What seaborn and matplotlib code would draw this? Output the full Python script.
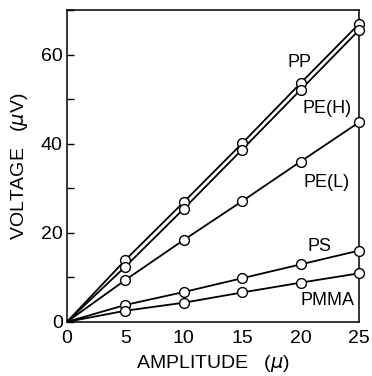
import pandas as pd
import matplotlib.pyplot as plt
import seaborn as sns
from matplotlib.ticker import MultipleLocator

# Data
amplitude = [0, 5, 10, 15, 20, 25]
pp = [0, 13.9, 26.9, 40.1, 53.6, 66.9]
pe_h = [0, 12.4, 25.4, 38.7, 52.1, 65.5]
pe_l = [0, 9.4, 18.4, 27.1, 36.0, 44.8]
ps = [0, 3.8, 6.7, 9.8, 12.9, 16.0]
pmma = [0, 2.5, 4.3, 6.6, 8.8, 10.9]

series_names = ["PP", "PE(H)", "PE(L)", "PS", "PMMA"]
label_text = ["PP", "PE(H)", "PE(L)", "PS", "PMMA"]
label_x = [19.9, 22.3, 22.2, 21.6, 22.3]
label_y = [58.3, 47.9, 31.2, 16.9, 4.9]

rows = []
for name, vals in zip(series_names, [pp, pe_h, pe_l, ps, pmma]):
    for a, v in zip(amplitude, vals):
        rows.append({"amplitude": a, "voltage": v, "sample": name})
df = pd.DataFrame(rows)

sns.set_style("ticks")
plt.rcParams['font.family'] = ['Liberation Sans', 'DejaVu Sans']
plt.rcParams['text.color'] = 'black'
plt.rcParams['axes.labelcolor'] = 'black'
plt.rcParams['xtick.color'] = 'black'
plt.rcParams['ytick.color'] = 'black'
plt.rcParams['mathtext.fontset'] = 'dejavusans'

fig = plt.figure(figsize=(3.72, 3.76), dpi=100)
ax = fig.add_axes([0.18, 0.144, 0.785, 0.829])

palette = {n: "black" for n in series_names}
sns.lineplot(data=df, x="amplitude", y="voltage", hue="sample", palette=palette,
             linewidth=1.3, legend=False, ax=ax, zorder=2)
sns.scatterplot(data=df[df["amplitude"] > 0], x="amplitude", y="voltage",
                color="white", edgecolor="black", linewidth=1.0, s=50,
                legend=False, ax=ax, zorder=3, clip_on=False)

for t, x, y in zip(label_text, label_x, label_y):
    ax.text(x, y, t, fontsize=13, ha="center", va="center")

ax.set_xlim(0, 25)
ax.set_ylim(0, 70)
ax.set_xticks([0, 5, 10, 15, 20, 25])
ax.set_yticks([0, 20, 40, 60])
ax.yaxis.set_minor_locator(MultipleLocator(10))
ax.tick_params(axis="y", which="both", direction="in", length=5, width=1, labelsize=14, pad=3)
ax.tick_params(axis="x", length=0, labelsize=14, pad=6)
for s in ax.spines.values():
    s.set_linewidth(1.1)
    s.set_color("black")

ax.set_xlabel(r"AMPLITUDE   ($\mu$)", fontsize=14, labelpad=4)
ax.set_ylabel(r"VOLTAGE   ($\mu$V)", fontsize=14, labelpad=8)

fig.savefig("out.png", dpi=100)
